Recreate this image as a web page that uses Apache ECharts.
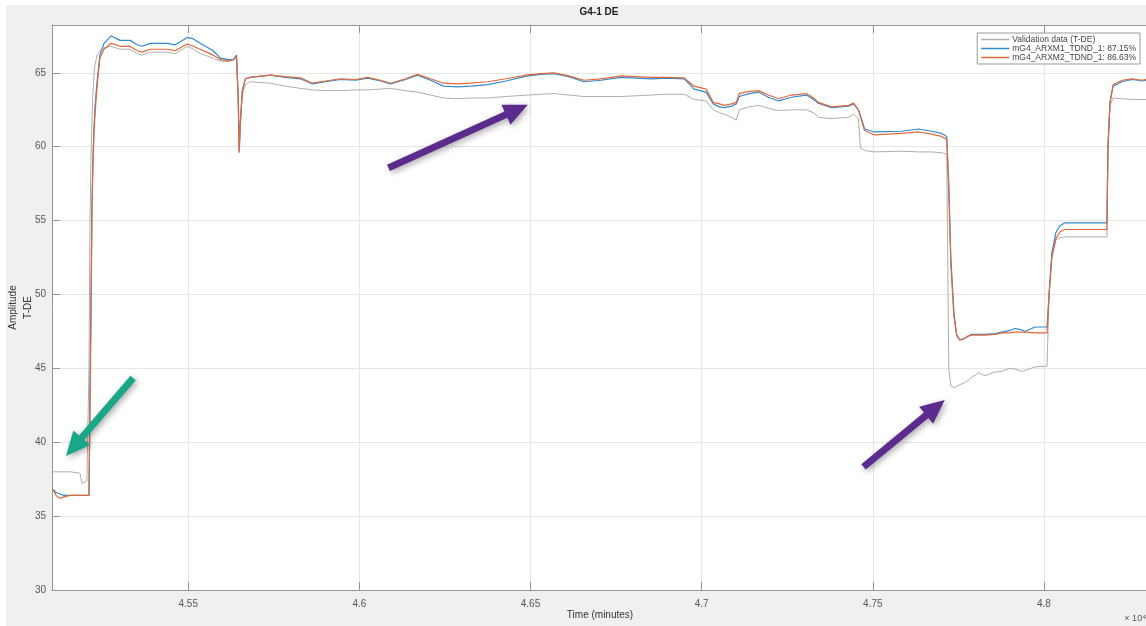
<!DOCTYPE html>
<html>
<head>
<meta charset="utf-8">
<script src="https://cdn.jsdelivr.net/npm/echarts@6/dist/echarts.min.js"></script>
<style>
html, body { margin: 0; padding: 0; background: #fff; }
#wrap { position: relative; width: 1146px; height: 626px; background: #fff; overflow: hidden; }
#bg { position: absolute; left: 6px; top: 5px; right: 0; bottom: 0; background: #f0f0f0; }
#chart { position: absolute; left: 0; top: 0; width: 1146px; height: 626px; }
</style>
</head>
<body>
<div id="wrap"><div id="bg"></div><div id="chart"></div></div>
<script>
// time axis (minutes x 10^4)
const timeData = [
    4.5105, 4.5114, 4.5125, 4.5137, 4.5155, 4.5184, 4.5190, 4.5196, 4.5204, 4.5207,
    4.5210, 4.5213, 4.5216, 4.5219, 4.5222, 4.5225, 4.5228, 4.5234, 4.5242, 4.5254,
    4.5275, 4.5301, 4.5330, 4.5351, 4.5365, 4.5389, 4.5439, 4.5462, 4.5477, 4.5497,
    4.5515, 4.5535, 4.5573, 4.5594, 4.5617, 4.5632, 4.5641, 4.5646, 4.5649, 4.5652,
    4.5658, 4.5667, 4.5681, 4.5740, 4.5784, 4.5828, 4.5863, 4.5901, 4.5945, 4.5989,
    4.6024, 4.6062, 4.6091, 4.6135, 4.6170, 4.6208, 4.6246, 4.6287, 4.6326, 4.6375,
    4.6428, 4.6492, 4.6530, 4.6568, 4.6612, 4.6656, 4.6706, 4.6765, 4.6809, 4.6852,
    4.6896, 4.6949, 4.6978, 4.7013, 4.7034, 4.7052, 4.7066, 4.7087, 4.7101, 4.7110,
    4.7139, 4.7166, 4.7195, 4.7224, 4.7262, 4.7306, 4.7327, 4.7341, 4.7379, 4.7429,
    4.7444, 4.7458, 4.7464, 4.7476, 4.7505, 4.7584, 4.7634, 4.7672, 4.7701, 4.7716,
    4.7722, 4.7728, 4.7737, 4.7745, 4.7754, 4.7766, 4.7780, 4.7789, 4.7810, 4.7827,
    4.7857, 4.7877, 4.7898, 4.7915, 4.7936, 4.7944, 4.7974, 4.8009, 4.8015, 4.8023,
    4.8035, 4.8047, 4.8061, 4.8111, 4.8155, 4.8184, 4.8187, 4.8193, 4.8202, 4.8228,
    4.8258, 4.8287, 4.8304
];

const validationData = [
    38.0, 38.0, 38.0, 38.0, 38.0, 37.9, 37.2, 37.3, 37.4, 37.4,
    45.0, 55.0, 59.5, 62.0, 63.8, 65.0, 65.6, 66.2, 66.5, 66.7,
    66.8, 66.6, 66.6, 66.3, 66.2, 66.4, 66.4, 66.3, 66.5, 66.8,
    66.6, 66.3, 66.0, 65.8, 65.8, 65.9, 66.0, 63.0, 59.8, 61.5,
    63.5, 64.2, 64.4, 64.3, 64.1, 63.95, 63.85, 63.8, 63.8, 63.85,
    63.85, 63.9, 63.95, 63.8, 63.7, 63.5, 63.3, 63.25, 63.3, 63.3,
    63.4, 63.5, 63.55, 63.6, 63.5, 63.4, 63.4, 63.4, 63.45, 63.5,
    63.55, 63.55, 63.2, 63.1, 62.5, 62.3, 62.2, 62.0, 61.8, 62.5,
    62.7, 62.8, 62.6, 62.45, 62.5, 62.5, 62.3, 62.0, 61.9, 62.0,
    62.2, 61.9, 59.9, 59.75, 59.65, 59.7, 59.65, 59.65, 59.6, 59.5,
    45.0, 43.8, 43.7, 43.8, 43.9, 44.0, 44.2, 44.4, 44.7, 44.5,
    44.75, 44.8, 45.0, 44.95, 44.8, 44.85, 45.1, 45.15, 50.0, 52.5,
    53.7, 53.85, 53.9, 53.9, 53.9, 53.9, 60.0, 62.8, 63.3, 63.25,
    63.2, 63.2, 63.2
];

const arxm1Data = [
    36.8, 36.6, 36.5, 36.4, 36.4, 36.4, 36.4, 36.4, 36.4, 36.4,
    36.4, 36.4, 50.0, 56.5, 59.5, 61.5, 62.8, 64.5, 66.2, 67.0,
    67.5, 67.2, 67.2, 66.9, 66.8, 67.0, 67.0, 66.9, 67.1, 67.4,
    67.3, 67.0, 66.5, 66.0, 65.9, 65.9, 66.2, 63.5, 59.7, 61.5,
    63.8, 64.6, 64.7, 64.85, 64.7, 64.6, 64.25, 64.4, 64.55, 64.5,
    64.65, 64.45, 64.25, 64.55, 64.85, 64.5, 64.1, 64.05, 64.1, 64.2,
    64.45, 64.8, 64.9, 64.95, 64.75, 64.4, 64.5, 64.7, 64.65, 64.6,
    64.65, 64.6, 63.9, 63.7, 62.9, 62.7, 62.65, 62.75, 62.9, 63.4,
    63.6, 63.7, 63.35, 63.1, 63.35, 63.5, 63.2, 62.95, 62.65, 62.75,
    62.9, 62.5, 62.1, 61.2, 61.0, 61.05, 61.2, 61.05, 60.9, 60.7,
    57.5, 52.5, 48.8, 47.2, 46.95, 47.0, 47.2, 47.3, 47.3, 47.3,
    47.35, 47.45, 47.55, 47.7, 47.6, 47.5, 47.8, 47.8, 50.0, 52.8,
    54.2, 54.65, 54.85, 54.85, 54.85, 54.85, 60.0, 63.0, 64.1, 64.4,
    64.55, 64.45, 64.5
];

const arxm2Data = [
    36.8, 36.4, 36.2, 36.3, 36.4, 36.4, 36.4, 36.4, 36.4, 36.4,
    36.4, 36.4, 48.0, 56.0, 59.0, 61.0, 62.3, 64.2, 66.0, 66.6,
    67.0, 66.8, 66.8, 66.5, 66.4, 66.6, 66.6, 66.5, 66.7, 66.95,
    66.8, 66.6, 66.2, 65.9, 65.8, 65.9, 66.1, 63.3, 59.6, 61.5,
    63.8, 64.6, 64.7, 64.85, 64.75, 64.66, 64.3, 64.45, 64.6, 64.55,
    64.7, 64.5, 64.3, 64.6, 64.9, 64.6, 64.3, 64.25, 64.3, 64.4,
    64.6, 64.87, 64.95, 65.0, 64.8, 64.5, 64.6, 64.8, 64.75, 64.7,
    64.7, 64.66, 64.1, 63.9, 63.0, 62.9, 62.8, 62.9, 63.0, 63.6,
    63.75, 63.8, 63.5, 63.25, 63.5, 63.6, 63.3, 63.0, 62.7, 62.8,
    62.95, 62.5, 62.0, 61.1, 60.8, 60.9, 61.0, 60.85, 60.7, 60.5,
    57.0, 52.0, 48.5, 47.3, 46.9, 47.0, 47.2, 47.25, 47.25, 47.25,
    47.3, 47.4, 47.4, 47.45, 47.45, 47.45, 47.4, 47.4, 50.0, 52.5,
    53.8, 54.25, 54.4, 54.4, 54.4, 54.4, 60.0, 63.0, 64.2, 64.5,
    64.6, 64.5, 64.6
];

const seriesNames = [
    "Validation data (T-DE)",
    "mG4_ARXM1_TDND_1: 87.15%",
    "mG4_ARXM2_TDND_1: 86.63%",
];

const xTicks = [4.55, 4.6, 4.65, 4.7, 4.75, 4.8];
const yTicks = [30, 35, 40, 45, 50, 55, 60, 65];

// annotation arrows, in data units [time, amplitude]
const arrowTails = [[4.5339, 44.35], [4.6085, 58.57], [4.7473, 38.33]];
const arrowTips = [[4.5143, 39.07], [4.6492, 62.84], [4.7710, 42.86]];

const colors = ["#adadad", "#2f8ad0", "#e2683a"];
const lineWidths = [1, 1.2, 1.2];
const arrowColors = ["#1aa688", "#5b2b8e", "#5b2b8e"];
const font = "'Liberation Sans', Arial, sans-serif";

const toPairs = (vals) => timeData.map((t, i) => [t, vals[i]]);

const chart = echarts.init(document.getElementById("chart"), null, { renderer: "canvas" });

const axisLineColor = "#959595";

const option = {
    animation: false,
    backgroundColor: "transparent",
    textStyle: { fontFamily: font },
    grid: {
        left: 52,
        right: -2,
        top: 25,
        bottom: 36,
        containLabel: false,
        outerBoundsMode: "none",
        show: true,
        backgroundColor: "#ffffff",
        borderWidth: 0,
    },
    legend: {
        data: seriesNames,
        orient: "vertical",
        right: 6,
        top: 33,
        backgroundColor: "#ffffff",
        borderColor: "#999999",
        borderWidth: 1,
        padding: [2, 4, 2, 4],
        itemGap: 0,
        itemWidth: 28,
        itemHeight: 1.5,
        icon: "rect",
        textStyle: { fontSize: 8.5, color: "#444", padding: [0, 0, 0, -2] },
    },
    xAxis: [
        {
            type: "value",
            min: 4.5102,
            max: 4.8304,
            position: "bottom",
            name: "Time (minutes)",
            nameLocation: "middle",
            nameGap: 20,
            nameMoveOverlap: false,
            nameTextStyle: { color: "#333", fontSize: 10 },
            axisLine: { show: true, lineStyle: { color: axisLineColor } },
            axisTick: {
                show: true,
                inside: true,
                length: 8,
                customValues: xTicks,
                lineStyle: { color: axisLineColor },
            },
            axisLabel: {
                customValues: xTicks,
                color: "#555",
                fontSize: 10,
                margin: 9,
            },
            splitLine: { show: true, lineStyle: { color: "#e6e6e6" } },
        },
        {
            type: "value",
            min: 4.5102,
            max: 4.8304,
            position: "top",
            axisLine: { show: true, lineStyle: { color: axisLineColor } },
            axisTick: {
                show: true,
                inside: true,
                length: 8,
                customValues: xTicks,
                lineStyle: { color: axisLineColor },
            },
            axisLabel: { show: false },
            splitLine: { show: false },
        },
    ],
    yAxis: {
        type: "value",
        min: 30,
        max: 68.24,
        name: "Amplitude\nT-DE",
        nameLocation: "middle",
        nameRotate: 90,
        nameGap: 16,
        nameMoveOverlap: false,
        nameTextStyle: { color: "#333", fontSize: 10, lineHeight: 15 },
        axisLine: { show: true, lineStyle: { color: axisLineColor } },
        axisTick: {
            show: true,
            inside: true,
            length: 8,
            customValues: yTicks,
            lineStyle: { color: axisLineColor },
        },
        axisLabel: {
            customValues: yTicks,
            color: "#555",
            fontSize: 10,
            margin: 6,
        },
        splitLine: { show: true, lineStyle: { color: "#e6e6e6" } },
    },
    series: [validationData, arxm1Data, arxm2Data].map((vals, i) => ({
        name: seriesNames[i],
        type: "line",
        data: toPairs(vals),
        showSymbol: false,
        color: colors[i],
        lineStyle: { width: lineWidths[i], color: colors[i] },
        z: 2 + i,
    })),
};

chart.setOption(option);

// arrows: convert data coordinates to pixels and draw as polygons
function arrowShape(p0, p1) {
    const dx = p1[0] - p0[0];
    const dy = p1[1] - p0[1];
    const len = Math.sqrt(dx * dx + dy * dy);
    const ux = dx / len, uy = dy / len;
    const nx = -uy, ny = ux;
    const shaft = 3.5, head = 11, headLen = 24;
    const bx = p1[0] - ux * headLen, by = p1[1] - uy * headLen;
    return [
        [p0[0] + nx * shaft, p0[1] + ny * shaft],
        [bx + nx * shaft, by + ny * shaft],
        [bx + nx * head, by + ny * head],
        [p1[0], p1[1]],
        [bx - nx * head, by - ny * head],
        [bx - nx * shaft, by - ny * shaft],
        [p0[0] - nx * shaft, p0[1] - ny * shaft],
    ];
}

const graphics = arrowTails.map((tail, i) => {
    const p0 = chart.convertToPixel({ gridIndex: 0 }, tail);
    const p1 = chart.convertToPixel({ gridIndex: 0 }, arrowTips[i]);
    return {
        type: "polygon",
        shape: { points: arrowShape(p0, p1) },
        style: {
            fill: arrowColors[i],
            shadowBlur: 6,
            shadowOffsetX: 2,
            shadowOffsetY: 2,
            shadowColor: "rgba(0,0,0,0.35)",
        },
        z: 100,
    };
});

graphics.push({
    type: "text",
    x: 599,
    y: 7,
    style: {
        text: "G4-1 DE",
        align: "center",
        verticalAlign: "top",
        font: "bold 10px " + font,
        fill: "#222",
    },
    z: 100,
});

graphics.push({
    type: "text",
    x: 1146,
    y: 614,
    style: {
        text: "× 10⁴",
        align: "right",
        verticalAlign: "top",
        font: "9px " + font,
        fill: "#555",
    },
    z: 100,
});

chart.setOption({ graphic: graphics });
</script>
</body>
</html>
